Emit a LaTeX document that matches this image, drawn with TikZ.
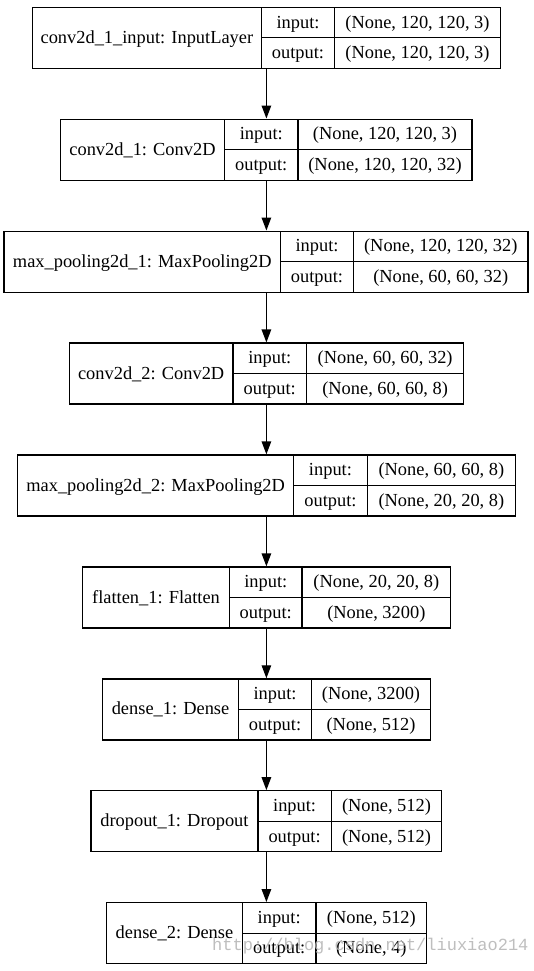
\documentclass[tikz,border=0pt]{standalone}
\usepackage{fontspec}
\setmainfont{Liberation Serif}
\newfontfamily\wmfont{Liberation Mono}
\usetikzlibrary{arrows.meta}
\tikzset{
  recbox/.style={draw=black, line width=1.3pt, rectangle, inner sep=0pt, fill=white},
  sepline/.style={draw=black, line width=1.3pt},
  txt/.style={inner sep=0pt, text height=13pt, text depth=2pt, font=\fontsize{18.4}{22}\selectfont},
  arr/.style={draw=black, line width=1.3pt, -{Triangle[length=13pt,width=9.5pt]}},
  wm/.style={inner sep=0pt, anchor=base west, text=black!28, opacity=0.9, font=\wmfont\fontsize{17}{20}\selectfont}
}
% #1 name, #2 top, #3 left, #4 divider1, #5 divider2, #6 right, #7 label, #8 input, #9 output
\newcommand\layerbox[9]{%
  \node[recbox, minimum width={#6pt-#3pt}, minimum height=61pt] (#1) at ({(#3+#6)/2},{#2+30.5}) {};
  \draw[sepline] (#4,#2) -- (#4,#2+61);
  \draw[sepline] (#5,#2) -- (#5,#2+61);
  \draw[sepline] (#4,#2+30.5) -- (#6,#2+30.5);
  \node[txt] (#1-lbl) at ({(#3+#4)/2},{#2+30.5}) {#7};
  \node[txt] (#1-ik) at ({(#4+#5)/2},{#2+15.25}) {input:};
  \node[txt] (#1-ok) at ({(#4+#5)/2},{#2+45.75}) {output:};
  \node[txt] (#1-iv) at ({(#5+#6)/2},{#2+15.25}) {#8};
  \node[txt] (#1-ov) at ({(#5+#6)/2},{#2+45.75}) {#9};
}
\begin{document}
\begin{tikzpicture}[x=1pt,y=-1pt]
\useasboundingbox[fill=white] (0,0) rectangle (533,971);
\layerbox{b1}{7.3}{32.3}{261.5}{334.5}{500.5}{conv2d\_1\_input: InputLayer}{(None, 120, 120, 3)}{(None, 120, 120, 3)}
\layerbox{b2}{119.2}{60.5}{224.5}{298}{472}{conv2d\_1: Conv2D}{(None, 120, 120, 3)}{(None, 120, 120, 32)}
\layerbox{b3}{231.2}{4}{280.5}{353.5}{528}{max\_pooling2d\_1: MaxPooling2D}{(None, 120, 120, 32)}{(None, 60, 60, 32)}
\layerbox{b4}{343.1}{69.3}{233}{306.5}{463.8}{conv2d\_2: Conv2D}{(None, 60, 60, 32)}{(None, 60, 60, 8)}
\layerbox{b5}{455.0}{17.7}{293.6}{367.3}{515.5}{max\_pooling2d\_2: MaxPooling2D}{(None, 60, 60, 8)}{(None, 20, 20, 8)}
\layerbox{b6}{567.0}{82.6}{229.4}{302.1}{450.6}{flatten\_1: Flatten}{(None, 20, 20, 8)}{(None, 3200)}
\layerbox{b7}{678.9}{102.6}{238.5}{311.6}{430.5}{dense\_1: Dense}{(None, 3200)}{(None, 512)}
\layerbox{b8}{790.8}{91}{257.9}{331.3}{441.7}{dropout\_1: Dropout}{(None, 512)}{(None, 512)}
\layerbox{b9}{902.7}{106.7}{242.3}{316}{426.7}{dense\_2: Dense}{(None, 512)}{(None, 4)}
\foreach \a/\b in {b1/b2,b2/b3,b3/b4,b4/b5,b5/b6,b6/b7,b7/b8,b8/b9}{
  \draw[arr] (266.4,0 |- \a.south) -- (266.4,0 |- \b.north);
}
\node[wm] (wm) at (212,950) {http://blog.csdn.net/liuxiao214};
\end{tikzpicture}
\end{document}
